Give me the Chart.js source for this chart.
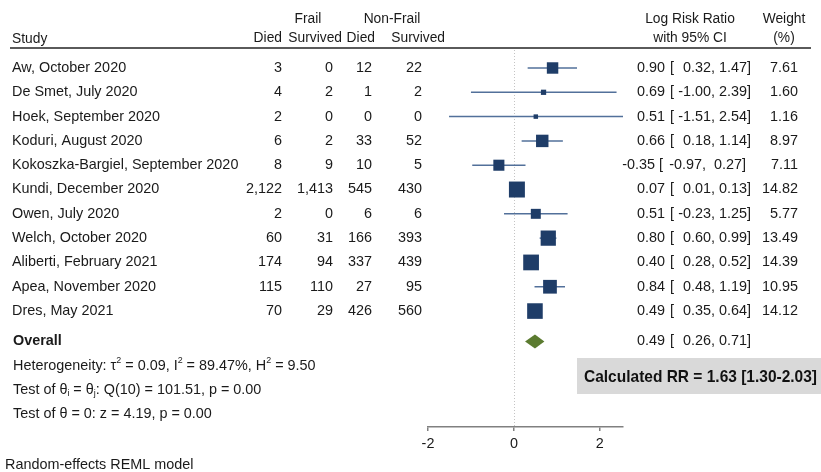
<!DOCTYPE html>
<html>
<head>
<meta charset="utf-8">
<script src="https://cdn.jsdelivr.net/npm/chart.js@4"></script>
<style>
  html, body { margin: 0; padding: 0; background: #ffffff; }
  #wrap { width: 821px; height: 472px; position: relative; }
</style>
</head>
<body>
<div id="wrap"><canvas id="forest" width="821" height="472"></canvas></div>
<script>
// ---- Study data ----
const studies = [
  'Aw, October 2020',
  'De Smet, July 2020',
  'Hoek, September 2020',
  'Koduri, August 2020',
  'Kokoszka-Bargiel, September 2020',
  'Kundi, December 2020',
  'Owen, July 2020',
  'Welch, October 2020',
  'Aliberti, February 2021',
  'Apea, November 2020',
  'Dres, May 2021'
];
const frailDied        = [3, 4, 2, 6, 8, 2122, 2, 60, 174, 115, 70];
const frailSurvived    = [0, 2, 0, 2, 9, 1413, 0, 31, 94, 110, 29];
const nonFrailDied     = [12, 1, 0, 33, 10, 545, 6, 166, 337, 27, 426];
const nonFrailSurvived = [22, 2, 0, 52, 5, 430, 6, 393, 439, 95, 560];
const logRR  = [0.90, 0.69, 0.51, 0.66, -0.35, 0.07, 0.51, 0.80, 0.40, 0.84, 0.49];
const ciLow  = [0.32, -1.00, -1.51, 0.18, -0.97, 0.01, -0.23, 0.60, 0.28, 0.48, 0.35];
const ciHigh = [1.47, 2.39, 2.54, 1.14, 0.27, 0.13, 1.25, 0.99, 0.52, 1.19, 0.64];
const weights = [7.61, 1.60, 1.16, 8.97, 7.11, 14.82, 5.77, 13.49, 14.39, 10.95, 14.12];

const overallEst  = 0.49;
const overallLow  = 0.26;
const overallHigh = 0.71;

const xTicks = [-2, 0, 2];
const calculatedRR = 'Calculated RR = 1.63 [1.30-2.03]';

// ---- Layout / style ----
const FONT = "'Liberation Sans', Arial, Helvetica, sans-serif";
const FS = 14.4;
const HFS = 13.8;
const TEXT = '#1a1a1a';
const SQUARE = '#1f3d68';
const CI_LINE = '#52709a';
const DIAMOND = '#5b7b30';
const OVERALL_ROW = 11.25;

const fmt2 = v => v.toFixed(2);
const fmtN = v => v.toLocaleString('en-US');

// draw text built from plain / superscript / subscript pieces
function drawRich(ctx, parts, x, y) {
  let cx = x;
  for (const [t, m] of parts) {
    const s = m ? FS * 0.62 : FS;
    ctx.font = s + 'px ' + FONT;
    const dy = m === 'sup' ? -FS * 0.38 : (m === 'sub' ? FS * 0.22 : 0);
    ctx.fillText(t, cx, y + dy);
    cx += ctx.measureText(t).width;
  }
}

// estimate with its interval, laid out in fixed fields
// (negative estimates take a wider leading field)
function drawEstimate(ctx, est, lo, hi, y) {
  const neg = est < 0;
  const estR = neg ? 655 : 665;
  const brL = neg ? 659 : 670;
  const loR = neg ? 702 : 711;
  const hiR = neg ? 742 : 747;
  ctx.textAlign = 'right';
  ctx.fillText(fmt2(est), estR, y);
  ctx.textAlign = 'left';
  ctx.fillText('[', brL, y);
  ctx.textAlign = 'right';
  ctx.fillText(fmt2(lo), loR, y);
  ctx.textAlign = 'left';
  ctx.fillText(',', loR, y);
  ctx.textAlign = 'right';
  ctx.fillText(fmt2(hi), hiR, y);
  ctx.textAlign = 'left';
  ctx.fillText(']', hiR, y);
}

const forestText = {
  id: 'forestText',
  beforeDatasetsDraw(chart) {
    const ctx = chart.ctx;
    const xs = chart.scales.x, area = chart.chartArea;
    // dotted no-effect line
    ctx.save();
    ctx.strokeStyle = '#c4c4c4';
    ctx.lineWidth = 1;
    ctx.setLineDash([1, 2]);
    const x0 = Math.round(xs.getPixelForValue(0)) + 0.5;
    ctx.beginPath();
    ctx.moveTo(x0, area.top);
    ctx.lineTo(x0, area.bottom);
    ctx.stroke();
    ctx.restore();
  },
  afterDraw(chart) {
    const ctx = chart.ctx;
    const xs = chart.scales.x, ys = chart.scales.y;
    ctx.save();
    ctx.fillStyle = TEXT;
    ctx.textBaseline = 'middle';

    // header
    ctx.font = HFS + 'px ' + FONT;
    ctx.textAlign = 'center';
    ctx.fillText('Frail', 308, 19);
    ctx.fillText('Non-Frail', 392, 19);
    ctx.fillText('Log Risk Ratio', 690, 19);
    ctx.fillText('with 95% CI', 690, 38);
    ctx.fillText('Weight', 784, 19);
    ctx.fillText('(%)', 784, 38);
    ctx.textAlign = 'left';
    ctx.fillText('Study', 12, 39);
    ctx.textAlign = 'right';
    ctx.fillText('Died', 282, 38);
    ctx.fillText('Survived', 342, 38);
    ctx.fillText('Died', 375, 38);
    ctx.fillText('Survived', 445, 38);

    ctx.strokeStyle = '#5a5a5a';
    ctx.lineWidth = 2;
    ctx.beginPath();
    ctx.moveTo(10, 48);
    ctx.lineTo(811, 48);
    ctx.stroke();

    // study rows
    ctx.font = FS + 'px ' + FONT;
    studies.forEach((name, i) => {
      const y = ys.getPixelForValue(i);
      ctx.textAlign = 'left';
      ctx.fillText(name, 12, y);
      ctx.textAlign = 'right';
      ctx.fillText(fmtN(frailDied[i]), 282, y);
      ctx.fillText(fmtN(frailSurvived[i]), 333, y);
      ctx.fillText(fmtN(nonFrailDied[i]), 372, y);
      ctx.fillText(fmtN(nonFrailSurvived[i]), 422, y);
      drawEstimate(ctx, logRR[i], ciLow[i], ciHigh[i], y);
      ctx.textAlign = 'right';
      ctx.fillText(fmt2(weights[i]), 798, y);
    });

    // overall row
    const yo = ys.getPixelForValue(OVERALL_ROW);
    ctx.textAlign = 'left';
    ctx.font = 'bold ' + FS + 'px ' + FONT;
    ctx.fillText('Overall', 13, yo);
    ctx.font = FS + 'px ' + FONT;
    drawEstimate(ctx, overallEst, overallLow, overallHigh, yo);

    // overall diamond
    ctx.fillStyle = DIAMOND;
    ctx.beginPath();
    ctx.moveTo(xs.getPixelForValue(overallLow), yo);
    ctx.lineTo(xs.getPixelForValue(overallEst), yo - 7);
    ctx.lineTo(xs.getPixelForValue(overallHigh), yo);
    ctx.lineTo(xs.getPixelForValue(overallEst), yo + 7);
    ctx.closePath();
    ctx.fill();

    // heterogeneity and tests
    ctx.fillStyle = TEXT;
    ctx.textAlign = 'left';
    drawRich(ctx, [['Heterogeneity: \u03C4', ''], ['2', 'sup'], [' = 0.09, I', ''], ['2', 'sup'],
                   [' = 89.47%, H', ''], ['2', 'sup'], [' = 9.50', '']], 13, ys.getPixelForValue(OVERALL_ROW + 1));
    drawRich(ctx, [['Test of \u03B8', ''], ['i', 'sub'], [' = \u03B8', ''], ['j', 'sub'],
                   [': Q(10) = 101.51, p = 0.00', '']], 13, ys.getPixelForValue(OVERALL_ROW + 2));
    drawRich(ctx, [['Test of \u03B8 = 0: z = 4.19, p = 0.00', '']], 13, ys.getPixelForValue(OVERALL_ROW + 3));

    ctx.font = FS + 'px ' + FONT;
    ctx.fillText('Random-effects REML model', 5, 465);

    // calculated RR box
    ctx.fillStyle = '#d9d9d9';
    ctx.fillRect(577, 358, 244, 36);
    ctx.fillStyle = '#111111';
    ctx.font = 'bold 17px ' + FONT;
    const w = ctx.measureText(calculatedRR).width;
    const target = 233;
    ctx.save();
    ctx.translate(584, 377);
    ctx.scale(target / w, 1);
    ctx.textAlign = 'left';
    ctx.fillText(calculatedRR, 0, 0);
    ctx.restore();

    ctx.restore();
  }
};

// ---- datasets ----
const ciSets = studies.map((s, i) => ({
  type: 'scatter',
  label: s,
  data: [{ x: ciLow[i], y: i }, { x: ciHigh[i], y: i }],
  showLine: true,
  borderColor: CI_LINE,
  borderWidth: 1.5,
  pointRadius: 0,
  order: 2
}));
const squareSet = {
  type: 'scatter',
  label: 'Log risk ratio',
  data: logRR.map((v, i) => ({ x: v, y: i })),
  pointStyle: 'rect',
  pointRadius: weights.map(w => 4.15 * Math.sqrt(w) / Math.SQRT2),
  backgroundColor: SQUARE,
  borderColor: SQUARE,
  borderWidth: 0,
  order: 1
};

new Chart(document.getElementById('forest'), {
  type: 'scatter',
  data: { datasets: [squareSet, ...ciSets] },
  plugins: [forestText],
  options: {
    responsive: false,
    animation: false,
    devicePixelRatio: 1,
    events: [],
    layout: { padding: { left: 428, right: 198, top: 50, bottom: 0 } },
    plugins: { legend: { display: false }, tooltip: { enabled: false } },
    scales: {
      x: {
        type: 'linear',
        min: -2,
        max: 2.54,
        afterBuildTicks: s => { s.ticks = xTicks.map(v => ({ value: v })); },
        afterFit: s => { s.height = 45; },
        grid: { drawOnChartArea: false, drawTicks: true, tickLength: 4, color: '#808080', lineWidth: 1.5 },
        border: { display: true, color: '#808080', width: 1.5 },
        ticks: { color: TEXT, padding: 4, font: { family: FONT, size: FS }, callback: v => String(v) }
      },
      y: {
        type: 'linear',
        display: false,
        reverse: true,
        min: -0.74,
        max: 14.77
      }
    }
  }
});
</script>
</body>
</html>
